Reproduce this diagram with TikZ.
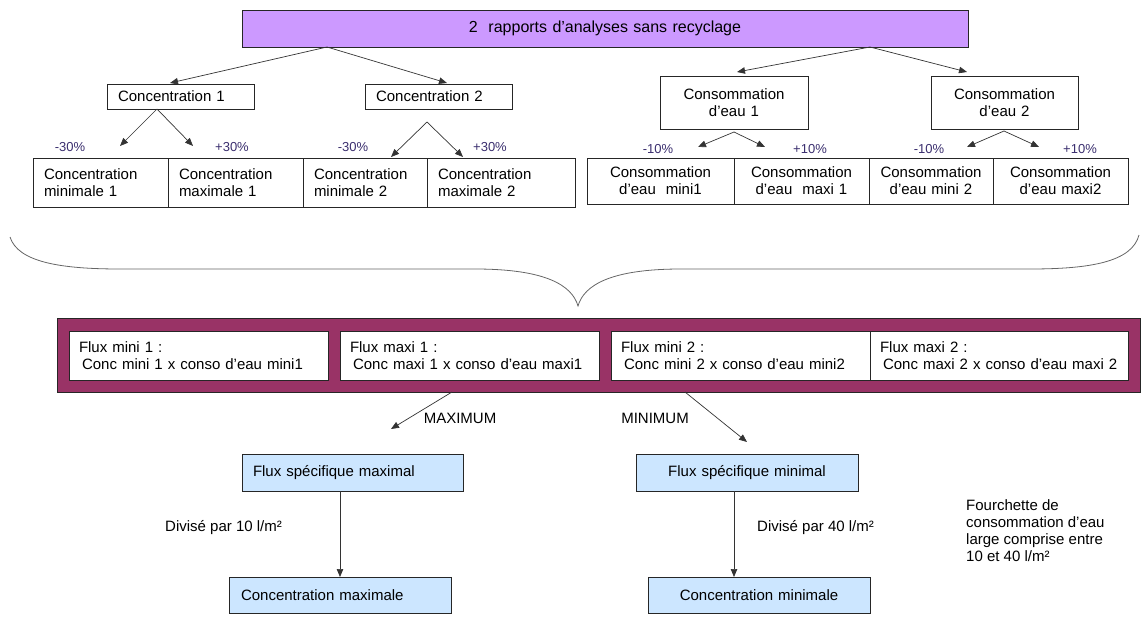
\documentclass[tikz,border=0pt]{standalone}
\usepackage{fontspec}
\setmainfont{Liberation Sans}
\usetikzlibrary{arrows.meta,positioning}
\definecolor{lavender}{HTML}{CC99FF}
\definecolor{plum}{HTML}{993366}
\definecolor{paleblue}{HTML}{CCE6FF}
\definecolor{pct}{HTML}{3A2E6E}
\definecolor{wire}{HTML}{333333}

\begin{document}
\begin{tikzpicture}[
    x=1pt, y=-1pt,
    box/.style={draw=black!85, line width=0.7pt, outer sep=0pt, inner ysep=0pt,
                font=\fontsize{15}{17}\selectfont},
    lcell/.style={box, align=left, inner xsep=11pt},
    ccell/.style={box, align=center, inner xsep=0pt},
    pctlabel/.style={font=\fontsize{13}{15}\selectfont, text=pct, inner sep=0pt},
    note/.style={font=\fontsize{15}{17}\selectfont, inner sep=0pt, align=left, anchor=west},
    arrow/.style={-{Triangle[length=8pt,width=6.5pt]}, draw=wire, line width=0.7pt},
    brace/.style={draw=black!60, line width=0.8pt}
  ]
  \useasboundingbox (0,0) rectangle (1143,618);

  % top level
  \node[ccell, fill=lavender, anchor=north west, minimum width=726pt, text width=726pt,
        minimum height=37pt, font=\fontsize{16}{19}\selectfont] (rapports) at (242,10)
        {2~~rapports d'analyses sans recyclage};

  \node[lcell, anchor=north west, text width=125pt, minimum height=25pt] (conc1) at (107,84) {Concentration 1};
  \node[lcell, anchor=north west, text width=125pt, minimum height=25pt] (conc2) at (365,84) {Concentration 2};
  \node[ccell, anchor=north west, text width=148pt, minimum height=53pt] (conso1) at (660,76) {Consommation\\d'eau 1};
  \node[ccell, anchor=north west, text width=147pt, minimum height=53pt] (conso2) at (931,76) {Consommation\\d'eau 2};

  % min / max rows
  \node[lcell, anchor=north west, text width=113pt, minimum height=49pt] (cmin1) at (33,158) {Concentration\\minimale 1};
  \node[lcell, text width=113pt, minimum height=49pt, right=0pt of cmin1] (cmax1) {Concentration\\maximale 1};
  \node[lcell, text width=102pt, minimum height=49pt, right=0pt of cmax1] (cmin2) {Concentration\\minimale 2};
  \node[lcell, text width=126pt, minimum height=49pt, right=0pt of cmin2] (cmax2) {Concentration\\maximale 2};

  \node[ccell, anchor=north west, text width=147pt, minimum height=46pt] (emin1) at (587,158) {Consommation\\d'eau~~mini1};
  \node[ccell, text width=135pt, minimum height=46pt, right=0pt of emin1] (emax1) {Consommation\\d'eau~~maxi 1};
  \node[ccell, text width=124pt, minimum height=46pt, right=0pt of emax1] (emin2) {Consommation\\d'eau mini 2};
  \node[ccell, text width=135pt, minimum height=46pt, right=0pt of emin2] (emax2) {Consommation\\d'eau maxi2};

  \node[pctlabel] (p1m) at (70,147) {-30\%};
  \node[pctlabel] (p1p) at (232,147) {+30\%};
  \node[pctlabel] (p2m) at (353,147) {-30\%};
  \node[pctlabel] (p2p) at (490,147) {+30\%};
  \node[pctlabel] (q1m) at (658,149) {-10\%};
  \node[pctlabel] (q1p) at (810,149) {+10\%};
  \node[pctlabel] (q2m) at (929,149) {-10\%};
  \node[pctlabel] (q2p) at (1080,149) {+10\%};

  % arrows of the tree
  \coordinate (topL) at (327,47);
  \coordinate (topR) at (870,47);
  \coordinate (toC1) at (170,83);
  \coordinate (toC2) at (447,83);
  \coordinate (toE1) at (737,72);
  \coordinate (toE2) at (967,72);
  \coordinate (c1s) at (157,109);  \coordinate (c1m) at (120,146); \coordinate (c1p) at (193,146);
  \coordinate (c2s) at (427,122);  \coordinate (c2m) at (391,157); \coordinate (c2p) at (463,157);
  \coordinate (e1s) at (734,132);  \coordinate (e1m) at (698,147); \coordinate (e1p) at (765,147);
  \coordinate (e2s) at (1004,131); \coordinate (e2m) at (967,147); \coordinate (e2p) at (1039,147);

  \draw[arrow] (topL) -- (toC1);
  \draw[arrow] (topL) -- (toC2);
  \draw[arrow] (topR) -- (toE1);
  \draw[arrow] (topR) -- (toE2);
  \draw[arrow] (c1s) -- (c1m);
  \draw[arrow] (c1s) -- (c1p);
  \draw[arrow] (c2s) -- (c2m);
  \draw[arrow] (c2s) -- (c2p);
  \draw[arrow] (e1s) -- (e1m);
  \draw[arrow] (e1s) -- (e1p);
  \draw[arrow] (e2s) -- (e2m);
  \draw[arrow] (e2s) -- (e2p);

  % brace
  \draw[brace] (10,237) .. controls (18,262) and (60,269) .. (120,269) -- (475,269)
    .. controls (545,269) and (572,285) .. (578,306)
    .. controls (584,285) and (611,269) .. (681,269) -- (1030,269)
    .. controls (1090,269) and (1132,262) .. (1139,235);

  % flux band
  \node[draw=black!85, fill=plum, line width=0.7pt, anchor=north west, inner sep=0pt,
        minimum width=1083pt, minimum height=74pt] (band) at (57,318) {};
  \node[lcell, fill=white, anchor=north west, inner xsep=10pt, text width=239pt, minimum height=49pt] (fmin1) at (69,331)
        {Flux mini 1 :\\\mbox{\hspace*{3pt}Conc mini 1 x conso d'eau mini1}};
  \node[lcell, fill=white, anchor=north west, inner xsep=10pt, text width=239pt, minimum height=49pt] (fmax1) at (340,331)
        {Flux maxi 1 :\\\mbox{\hspace*{3pt}Conc maxi 1 x conso d'eau maxi1}};
  \node[lcell, fill=white, anchor=north west, inner xsep=10pt, text width=239pt, minimum height=49pt] (fmin2) at (611,331)
        {Flux mini 2 :\\\mbox{\hspace*{3pt}Conc mini 2 x conso d'eau mini2}};
  \node[lcell, fill=white, inner xsep=10pt, text width=238pt, minimum height=49pt, right=0pt of fmin2] (fmax2)
        {Flux maxi 2 :\\\mbox{\hspace*{3pt}Conc maxi 2 x conso d'eau maxi 2}};

  \node[note, anchor=center] (maxlbl) at (460,418) {MAXIMUM};
  \node[note, anchor=center] (minlbl) at (655,418) {MINIMUM};
  \coordinate (maxS) at (452,392); \coordinate (maxE) at (391,429);
  \coordinate (minS) at (685,392); \coordinate (minE) at (747,442);
  \draw[arrow] (maxS) -- (maxE);
  \draw[arrow] (minS) -- (minE);

  % specific flux and concentrations
  \node[lcell, fill=paleblue, anchor=north west, text width=199pt, minimum height=37pt] (fsmax) at (242,454) {Flux spécifique maximal};
  \node[ccell, fill=paleblue, anchor=north west, text width=222pt, minimum height=37pt] (fsmin) at (636,454) {Flux spécifique minimal};
  \node[lcell, fill=paleblue, anchor=north west, inner xsep=12pt, text width=198pt, minimum height=36pt] (cmax) at (229,577) {Concentration maximale};
  \node[ccell, fill=paleblue, anchor=north west, text width=222pt, minimum height=36pt] (cmin) at (648,577) {Concentration minimale};

  \coordinate (fsminS) at (734,491);
  \draw[arrow] (fsmax.south -| cmax.north) -- (cmax.north);
  \draw[arrow] (fsminS) -- (fsminS |- cmin.north);

  \node[note] (div10) at (165,528) {Divisé par 10 l/m²};
  \node[note] (div40) at (757,528) {Divisé par 40 l/m²};
  \node[note] (range) at (966,531) {Fourchette de\\consommation d'eau\\large comprise entre\\10 et 40 l/m²};
\end{tikzpicture}
\end{document}
